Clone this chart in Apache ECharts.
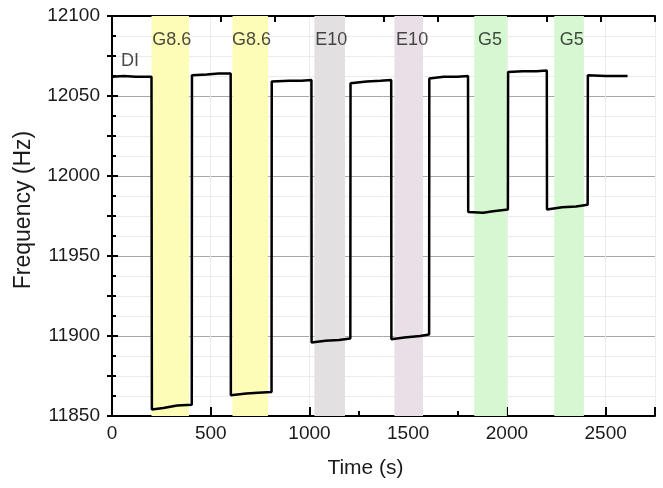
<!DOCTYPE html>
<html>
<head>
<meta charset="utf-8">
<script src="https://cdn.jsdelivr.net/npm/echarts@6/dist/echarts.min.js"></script>
<style>
  html, body { margin: 0; padding: 0; background: #fff; }
  #chart { width: 663px; height: 488px; }
</style>
</head>
<body>
<div id="chart"></div>
<script>
// frequency trace
const times = [
  0, 60, 120, 200,
  202, 260, 330, 404,
  405, 480, 540, 601,
  602, 680, 740, 808,
  809, 900, 960, 1010,
  1011, 1080, 1150, 1207,
  1208, 1290, 1360, 1414,
  1415, 1480, 1560, 1606,
  1607, 1680, 1750, 1803,
  1804, 1880, 1930, 2005,
  2006, 2080, 2150, 2202,
  2203, 2280, 2350, 2409,
  2410, 2500, 2611
];
const freqs = [
  12062, 12062.5, 12062, 12062,
  11854, 11855, 11856.5, 11857,
  12063, 12063.5, 12064, 12064,
  11863, 11864, 11864.5, 11865,
  12059, 12059.5, 12059.5, 12060,
  11896, 11897, 11897.5, 11898.5,
  12058, 12059, 12059.5, 12060,
  11898, 11899, 11900, 11901,
  12061, 12062, 12062, 12062.5,
  11977.5, 11977, 11978, 11979,
  12065, 12065.5, 12065.5, 12066,
  11979, 11980.5, 11981, 11982,
  12063, 12062.5, 12062.5
];

// shaded exposure windows
const bandStart = [200, 610, 1025, 1430, 1835, 2240];
const bandEnd = [390, 790, 1180, 1575, 2000, 2390];
const bandColors = ['#fdfdb8', '#fdfdb8', '#e2e0e0', '#e8e0e6', '#d6f8d0', '#d6f8d0'];

// text labels in the plot
const labelNames = ['DI', 'G8.6', 'G8.6', 'E10', 'E10', 'G5', 'G5'];
const labelTimes = [91, 303, 707, 1111, 1520, 1914, 2328];
const labelFreqs = [12072, 12085, 12085, 12085, 12085, 12085, 12085];

const xTicks = [0, 500, 1000, 1500, 2000, 2500];
const yTicks = [11850, 11900, 11950, 12000, 12050, 12100];

const FONT = '"Liberation Sans", Arial, sans-serif';
const gridRect = { left: 112, right: 8, top: 16, bottom: 72 };

const chart = echarts.init(document.getElementById('chart'), null, { renderer: 'canvas' });

const lineData = times.map((t, i) => [t, freqs[i]]);
const labelData = labelNames.map((n, i) => [labelTimes[i], labelFreqs[i], n]);
const bands = bandStart.map((s, i) => [
  { xAxis: s, itemStyle: { color: bandColors[i] } },
  { xAxis: bandEnd[i] }
]);

chart.setOption({
  animation: false,
  textStyle: { fontFamily: FONT },
  grid: [
    Object.assign({}, gridRect),
    Object.assign({}, gridRect)
  ],
  xAxis: [
    {
      type: 'value', gridIndex: 0, position: 'bottom',
      min: xTicks[0], max: 2750, interval: 500,
      name: 'Time (s)', nameLocation: 'middle', nameGap: 42,
      nameTextStyle: { fontSize: 21, color: '#1a1a1a', fontFamily: FONT, padding: [0, 36, 0, 0] },
      axisLine: { lineStyle: { color: '#000', width: 2 } },
      axisTick: { inside: true, length: 9, lineStyle: { color: '#000', width: 2 } },
      minorTick: { show: true, splitNumber: 2, length: 5, lineStyle: { color: '#000', width: 2 } },
      axisLabel: {
        fontSize: 19, color: '#1a1a1a', margin: 8, fontFamily: FONT,
        showMaxLabel: false,
        formatter: v => (xTicks.indexOf(v) >= 0 ? String(v) : '')
      },
      splitLine: { show: true, lineStyle: { color: '#ececec', width: 1 } },
      minorSplitLine: { show: false }
    },
    {
      type: 'value', gridIndex: 0, position: 'top',
      min: 0, max: 10, interval: 1,
      axisLine: { lineStyle: { color: '#000', width: 2 } },
      axisTick: { inside: true, length: 6, lineStyle: { color: '#000', width: 2 } },
      axisLabel: { show: false },
      splitLine: { show: false }
    },
    {
      type: 'value', gridIndex: 1, show: false,
      min: 0, max: 2750
    }
  ],
  yAxis: [
    {
      type: 'value', gridIndex: 0, position: 'left',
      min: yTicks[0], max: yTicks[yTicks.length - 1], interval: 50,
      name: 'Frequency (Hz)', nameLocation: 'middle', nameGap: 77,
      nameTextStyle: { fontSize: 23, color: '#1a1a1a', fontFamily: FONT, padding: [0, 0, 0, 12] },
      axisLine: { lineStyle: { color: '#000', width: 2 } },
      axisTick: { inside: true, length: 6, lineStyle: { color: '#000', width: 2 } },
      minorTick: { show: true, splitNumber: 4, length: 4, lineStyle: { color: '#000', width: 2 } },
      axisLabel: {
        fontSize: 19, color: '#1a1a1a', margin: 12, fontFamily: FONT,
        formatter: v => String(v)
      },
      splitLine: { show: true, lineStyle: { color: '#a8a8a8', width: 1 } },
      minorSplitLine: { show: true, lineStyle: { color: '#ececec', width: 1 } }
    },
    {
      type: 'value', gridIndex: 0, position: 'right',
      min: yTicks[0], max: yTicks[yTicks.length - 1], interval: 25,
      axisLine: { show: true, lineStyle: { color: '#000', width: 2 } },
      axisTick: { show: true, inside: true, length: 5, lineStyle: { color: '#000', width: 2 } },
      axisLabel: { show: false },
      splitLine: { show: false }
    },
    {
      type: 'value', gridIndex: 1, position: 'left',
      min: yTicks[0], max: yTicks[yTicks.length - 1], interval: 50,
      axisLine: { show: false },
      axisTick: { show: true, inside: false, length: 5, lineStyle: { color: '#000', width: 2 } },
      axisLabel: { show: false },
      splitLine: { show: false }
    }
  ],
  series: [
    {
      type: 'line',
      xAxisIndex: 0, yAxisIndex: 0,
      data: lineData,
      showSymbol: false,
      silent: true,
      lineStyle: { color: '#000', width: 2.5 },
      markArea: {
        silent: true,
        label: { show: false },
        data: bands
      },
      z: 3
    },
    {
      type: 'scatter',
      xAxisIndex: 0, yAxisIndex: 0,
      data: labelData,
      symbolSize: 0,
      silent: true,
      label: {
        show: true, position: 'inside',
        formatter: p => p.value[2],
        fontSize: 18, color: '#1a1a1a', fontFamily: FONT
      },
      z: 4
    }
  ]
});
</script>
</body>
</html>
